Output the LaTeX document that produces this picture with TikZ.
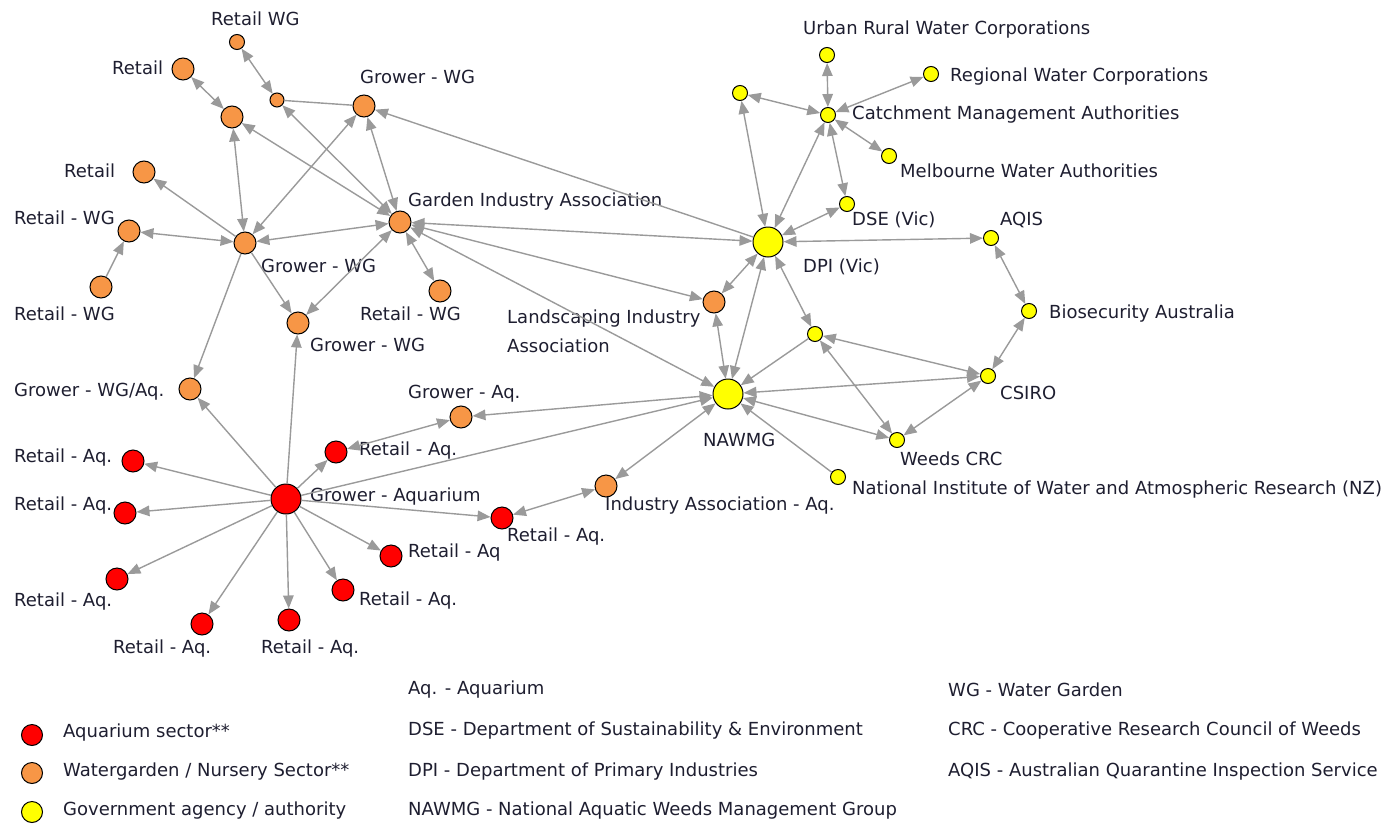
\documentclass[tikz,border=0pt]{standalone}
\usepackage{fontspec}
\setmainfont{DejaVu Sans}
\usetikzlibrary{arrows.meta}
\definecolor{aqred}{HTML}{FF0000}
\definecolor{wgorange}{HTML}{F79646}
\definecolor{govyellow}{HTML}{FFFF00}
\definecolor{linkgray}{HTML}{9A9A9A}
\definecolor{txt}{HTML}{1E1E30}
\begin{document}
\begin{tikzpicture}[x=1pt,y=-1pt,
  every node/.append style={inner sep=0pt},
  hd/.tip={Triangle[length=13pt,width=10.5pt]},
  vtx/.style={circle,draw=black,line width=1pt,minimum size=22pt},
  onode/.style={vtx,fill=wgorange},
  rnode/.style={vtx,fill=aqred},
  ynode/.style={vtx,fill=govyellow,minimum size=15pt},
  big/.style={minimum size=30pt},
  minor/.style={minimum size=15pt},
  keydot/.style={vtx,minimum width=20pt,minimum height=21pt},
  lbl/.style={anchor=west,text=txt,font=\fontsize{18}{29}\selectfont},
  link/.style={draw=linkgray,line width=1.4pt,-hd},
  both/.style={draw=linkgray,line width=1.4pt,hd-hd},
  plain/.style={draw=linkgray,line width=1.4pt}]
\useasboundingbox (0,0) rectangle (1394,827);
% watergarden / nursery sector
\node[onode,minor] (rwgt) at (237,42) {};
\node[onode] (ret1) at (183,69) {};
\node[onode] (o1) at (232,117) {};
\node[onode,minimum size=14pt] (sm) at (277,100) {};
\node[onode] (gwg1) at (364,106) {};
\node[onode] (ret2) at (144,172) {};
\node[onode] (rwg1) at (129,231) {};
\node[onode] (gwg2) at (245,243) {};
\node[onode] (gia) at (400,222) {};
\node[onode] (rwg2) at (101,287) {};
\node[onode] (rwg3) at (440,291) {};
\node[onode] (gwg3) at (298,323) {};
\node[onode] (gwgaq) at (190,389) {};
\node[onode] (gaq) at (461,417) {};
\node[onode] (lia) at (714,302) {};
\node[onode] (iaaq) at (606,486) {};
% aquarium sector
\node[rnode,big] (gaqu) at (286,499) {};
\node[rnode] (raq1) at (336,452) {};
\node[rnode] (raq2) at (133,461) {};
\node[rnode] (raq3) at (125,513) {};
\node[rnode] (raq4) at (117,579) {};
\node[rnode] (raq5) at (202,624) {};
\node[rnode] (raq6) at (289,620) {};
\node[rnode] (raq7) at (343,590) {};
\node[rnode] (raq8) at (391,556) {};
\node[rnode] (raq9) at (502,518) {};
% government agencies
\node[ynode] (urwc) at (827,55) {};
\node[ynode] (rwc) at (931,74) {};
\node[ynode] (y1) at (740,93) {};
\node[ynode] (cma) at (828,115) {};
\node[ynode] (mwa) at (889,156) {};
\node[ynode] (dse) at (847,204) {};
\node[ynode] (aqis) at (991,238) {};
\node[ynode,big] (dpi) at (768,242) {};
\node[ynode] (bio) at (1029,311) {};
\node[ynode] (y2) at (815,334) {};
\node[ynode,big] (nawmg) at (728,394) {};
\node[ynode] (csiro) at (988,376) {};
\node[ynode] (weeds) at (897,440) {};
\node[ynode] (niwa) at (838,477) {};
% labels
\node[lbl] (rwgtL) at (211,19) {Retail WG};
\node[lbl] (ret1L) at (112,68) {Retail};
\node[lbl] (gwg1L) at (360,77) {Grower - WG};
\node[lbl] (ret2L) at (64,171) {Retail};
\node[lbl] (rwg1L) at (14,218) {Retail - WG};
\node[lbl] (giaL) at (408,202) {Garden Industry Association};
\node[lbl] (gwg2L) at (261,266) {Grower - WG};
\node[lbl] (rwg2L) at (14,314) {Retail - WG};
\node[lbl] (rwg3L) at (360,314) {Retail - WG};
\node[lbl] (gwg3L) at (310,345) {Grower - WG};
\node[lbl,align=left] (liaL) at (507,331) {Landscaping Industry\\Association};
\node[lbl] (gwgaqL) at (14,392) {Grower - WG/Aq.};
\node[lbl] (gaqL) at (408,394) {Grower - Aq.};
\node[lbl] (raq1L) at (359,451) {Retail - Aq.};
\node[lbl] (raq2L) at (14,458) {Retail - Aq.};
\node[lbl] (gaquL) at (310,497) {Grower - Aquarium};
\node[lbl] (raq3L) at (14,506) {Retail - Aq.};
\node[lbl] (iaaqL) at (605,506) {Industry Association - Aq.};
\node[lbl] (raq9L) at (507,537) {Retail - Aq.};
\node[lbl] (raq8L) at (408,553) {Retail - Aq};
\node[lbl] (raq4L) at (14,602) {Retail - Aq.};
\node[lbl] (raq7L) at (359,601) {Retail - Aq.};
\node[lbl] (raq5L) at (113,649) {Retail - Aq.};
\node[lbl] (raq6L) at (261,649) {Retail - Aq.};
\node[lbl] (nawmgL) at (703,440) {NAWMG};
\node[lbl] (urwcL) at (803,30) {Urban Rural Water Corporations};
\node[lbl] (rwcL) at (950,77) {Regional Water Corporations};
\node[lbl] (cmaL) at (852,115) {Catchment Management Authorities};
\node[lbl] (mwaL) at (900,171) {Melbourne Water Authorities};
\node[lbl] (dseL) at (852,220) {DSE (Vic)};
\node[lbl] (aqisL) at (1000,220) {AQIS};
\node[lbl] (dpiL) at (803,267) {DPI (Vic)};
\node[lbl] (bioL) at (1049,314) {Biosecurity Australia};
\node[lbl] (csiroL) at (1000,393) {CSIRO};
\node[lbl] (weedsL) at (900,459) {Weeds CRC};
\node[lbl] (niwaL) at (852,490) {National Institute of Water and Atmospheric Research (NZ)};
% two-way links
\draw[both] (rwgt) -- (sm);
\draw[both] (ret1) -- (o1);
\draw[both] (o1) -- (gwg2);
\draw[both] (o1) -- (gia);
\draw[both] (gwg2) -- (rwg1);
\draw[both] (gwg2) -- (gwg1);
\draw[both] (gwg2) -- (gia);
\draw[both] (gia) -- (gwg3);
\draw[both] (gia) -- (rwg3);
\draw[both] (gia) -- (gwg1);
\draw[both] (gia) -- (sm);
\draw[both] (gia) -- (dpi);
\draw[both] (gia) -- (lia);
\draw[both] (gia) -- (nawmg);
\draw[both] (lia) -- (dpi);
\draw[both] (lia) -- (nawmg);
\draw[both] (dpi) -- (nawmg);
\draw[both] (dpi) -- (y1);
\draw[both] (dpi) -- (cma);
\draw[both] (dpi) -- (dse);
\draw[both] (dpi) -- (aqis);
\draw[both] (dpi) -- (y2);
\draw[both] (y1) -- (cma);
\draw[both] (urwc) -- (cma);
\draw[both] (rwc) -- (cma);
\draw[both] (cma) -- (mwa);
\draw[both] (cma) -- (dse);
\draw[both] (aqis) -- (bio);
\draw[both] (bio) -- (csiro);
\draw[both] (y2) -- (csiro);
\draw[both] (y2) -- (weeds);
\draw[both] (csiro) -- (weeds);
\draw[both] (csiro) -- (nawmg);
\draw[both] (nawmg) -- (weeds);
\draw[both] (nawmg) -- (gaq);
\draw[both] (nawmg) -- (iaaq);
\draw[both] (iaaq) -- (raq9);
\draw[both] (raq1) -- (gaq);
% one-way links
\draw[link] (gwg2) -- (ret2);
\draw[link] (rwg2) -- (rwg1);
\draw[link] (gwg2) -- (gwg3);
\draw[link] (gwg2) -- (gwgaq);
\draw[link] (gaqu) -- (gwg3);
\draw[link] (gaqu) -- (gwgaq);
\draw[link] (dpi) -- (gwg1);
\draw[link] (y2) -- (nawmg);
\draw[link] (niwa) -- (nawmg);
\draw[link] (gaqu) -- (nawmg);
\foreach \r in {raq1,raq2,raq3,raq4,raq5,raq6,raq7,raq8,raq9}
  \draw[link] (gaqu) -- (\r);
\draw[plain] (sm) -- (gwg1);
% legend
\node[keydot,fill=aqred] (keyaq) at (32,735) {};
\node[keydot,fill=wgorange] (keywg) at (32,773) {};
\node[keydot,fill=govyellow] (keygov) at (32,812) {};
\node[lbl] (keyaqL) at (63,733) {Aquarium sector**};
\node[lbl] (keywgL) at (63,772) {Watergarden / Nursery Sector**};
\node[lbl] (keygovL) at (63,811) {Government agency / authority};
\node[lbl] (abbAq) at (408,690) {Aq. - Aquarium};
\node[lbl] (abbDse) at (408,731) {DSE - Department of Sustainability \& Environment};
\node[lbl] (abbDpi) at (408,772) {DPI - Department of Primary Industries};
\node[lbl] (abbNaw) at (408,811) {NAWMG - National Aquatic Weeds Management Group};
\node[lbl] (abbWg) at (948,690) {WG - Water Garden};
\node[lbl] (abbCrc) at (948,731) {CRC - Cooperative Research Council of Weeds};
\node[lbl] (abbAqis) at (948,772) {AQIS - Australian Quarantine Inspection Service};
\end{tikzpicture}
\end{document}
